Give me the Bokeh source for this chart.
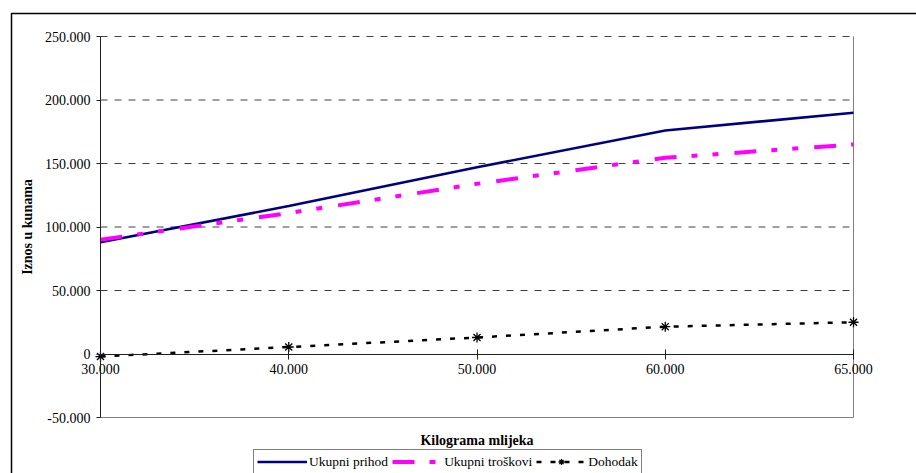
from bokeh.plotting import figure
from bokeh.models import Range1d, FixedTicker, Legend, LegendItem, Label, BoxAnnotation
from bokeh.embed import file_html
from bokeh.resources import INLINE

# ---- data ----
categories = ["30.000", "40.000", "50.000", "60.000", "65.000"]
ukupni_prihod = [88000, 116500, 147000, 176000, 190000]
ukupni_troskovi = [90000, 111000, 134000, 154500, 165000]
dohodak = [-2000, 5500, 13000, 21500, 25000]
y_ticks = [-50000, 0, 50000, 100000, 150000, 200000, 250000]
y_tick_labels = ["-50.000", "0", "50.000", "100.000", "150.000", "200.000", "250.000"]
x_title = "Kilograma mlijeka"
y_title = "Iznos u kunama"
series_names = ["Ukupni prihod", "Ukupni troškovi", "Dohodak"]

# ---- layout (pixels) ----
W, H = 916, 473
FL, FR, FT, FB = 100, 853, 36, 417   # plot-area box on the canvas
FONT = "Liberation Serif"

xs = list(range(len(categories)))
ymin, ymax = y_ticks[0], y_ticks[-1]
ppx = (FR - FL) / (xs[-1] - xs[0])
ppy = (FB - FT) / (ymax - ymin)
x0 = xs[0] - FL / ppx
x1 = xs[-1] + (W - FR) / ppx
y1 = ymax + FT / ppy
y0 = ymin - (H - FB) / ppy


def px_x(px):
    return x0 + px / ppx


def px_y(py):
    return y1 - py / ppy


p = figure(width=W, height=H, output_backend="svg", toolbar_location=None, title=None,
           x_range=Range1d(x0, x1), y_range=Range1d(y0, y1),
           min_border_left=0, min_border_right=0, min_border_top=0, min_border_bottom=0)
p.background_fill_color = "white"
p.border_fill_color = "white"
p.outline_line_color = None
p.xgrid.visible = False
p.ygrid.visible = False

# horizontal grid lines, only inside the plot area
grid_vals = [t for t in y_ticks if t > 0]
p.segment(x0=[xs[0]] * len(grid_vals), y0=grid_vals, x1=[xs[-1]] * len(grid_vals), y1=grid_vals,
          line_color="#404040", line_width=1, line_dash="7 7", level="underlay")

# plot-area border (right and bottom sides)
p.segment(x0=[xs[-1], xs[0]], y0=[ymin, ymin], x1=[xs[-1], xs[-1]], y1=[ymax, ymin],
          line_color="#808080", line_width=1, level="underlay")

# y axis at x = first category
p.yaxis.fixed_location = xs[0]
p.yaxis.bounds = (ymin, ymax)
p.yaxis.ticker = FixedTicker(ticks=y_ticks)
p.yaxis.major_label_overrides = {t: l for t, l in zip(y_ticks, y_tick_labels)}
p.yaxis.axis_label = y_title
p.yaxis.axis_label_text_font = FONT
p.yaxis.axis_label_text_font_style = "bold"
p.yaxis.axis_label_text_font_size = "14px"
p.yaxis.axis_label_text_color = "black"
p.yaxis.axis_label_standoff = 7
p.yaxis.major_label_text_font = FONT
p.yaxis.major_label_text_font_size = "14px"
p.yaxis.major_label_text_color = "black"
p.yaxis.major_tick_in = 0
p.yaxis.major_tick_out = 4
p.yaxis.minor_tick_line_color = None
p.yaxis.axis_line_color = "#202020"
p.yaxis.major_tick_line_color = "#202020"
p.yaxis.major_label_standoff = 6

# x axis crossing at zero
p.xaxis.fixed_location = 0
p.xaxis.bounds = (xs[0], xs[-1])
p.xaxis.ticker = FixedTicker(ticks=xs)
p.xaxis.major_label_overrides = {i: c for i, c in zip(xs, categories)}
p.xaxis.major_label_text_font = FONT
p.xaxis.major_label_text_font_size = "14px"
p.xaxis.major_label_text_color = "black"
p.xaxis.major_tick_in = 5
p.xaxis.major_tick_out = 5
p.xaxis.minor_tick_line_color = None
p.xaxis.axis_line_color = "#202020"
p.xaxis.major_tick_line_color = "#202020"
p.xaxis.major_label_standoff = 5

# lines
r1 = p.line(xs, ukupni_prihod, line_color="#000080", line_width=2.6)
r2 = p.line(xs, ukupni_troskovi, line_color="#FF00FF", line_width=4,
            line_dash="22 15 6 15 6 16")
r3 = p.line(xs, dohodak, line_color="black", line_width=2.5, line_dash="5 9")
r3m = p.scatter(xs, dohodak, marker="asterisk", size=10, line_color="black", line_width=1.3)

# x axis title
p.add_layout(Label(x=(xs[0] + xs[-1]) / 2, y=px_y(440), text=x_title,
                   text_align="center", text_baseline="middle", text_font=FONT,
                   text_font_style="bold", text_font_size="14px", text_color="black"))

# legend
legend = Legend(items=[LegendItem(label=series_names[0], renderers=[r1]),
                       LegendItem(label=series_names[1], renderers=[r2]),
                       LegendItem(label=series_names[2], renderers=[r3, r3m])],
                orientation="horizontal", location=(253, -1),
                label_text_font=FONT, label_text_font_size="13.5px",
                label_text_color="black",
                glyph_width=50, glyph_height=15, label_standoff=2, spacing=4,
                padding=3, margin=0, label_height=17,
                border_line_color="black", border_line_width=1,
                background_fill_color="white", background_fill_alpha=1)
p.add_layout(legend, "center")

# outer chart border
p.add_layout(BoxAnnotation(left=px_x(11), top=px_y(13), right=px_x(W + 50), bottom=px_y(H + 50),
                           fill_alpha=0, line_color="black", line_alpha=1, line_width=1.5))

open("out.html", "w").write(file_html(p, INLINE))
